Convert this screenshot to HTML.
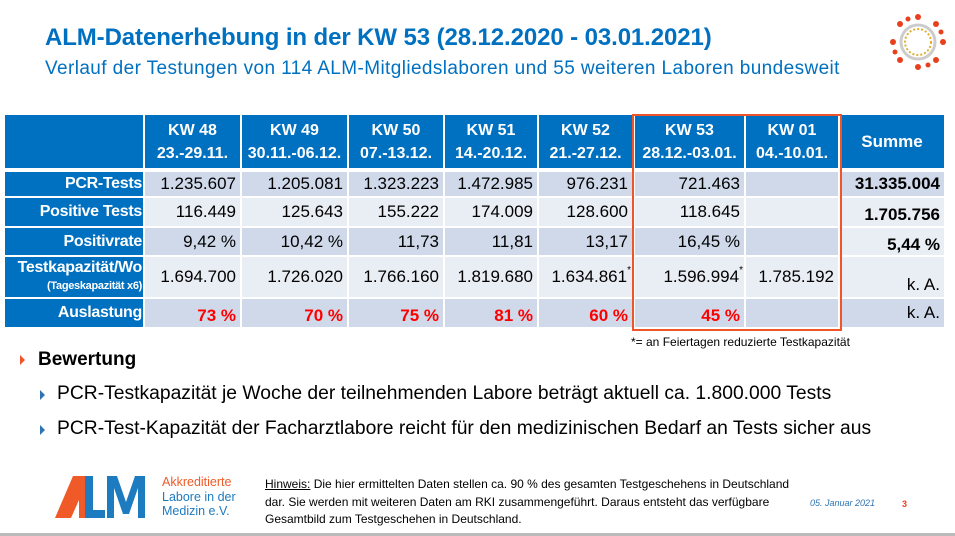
<!DOCTYPE html>
<html><head><meta charset="utf-8"><style>
body{margin:0;width:955px;height:536px;background:#fff;position:relative;overflow:hidden;font-family:"Liberation Sans",sans-serif}
.a{position:absolute;white-space:nowrap}
.c{position:absolute;box-sizing:border-box;display:flex;align-items:center;justify-content:flex-end;padding-right:4px;font-size:17px;color:#000}
.h{background:#0070C0;color:#fff;font-weight:bold;justify-content:center;text-align:center;flex-direction:column;font-size:16px;line-height:23px;padding:0}
.l{background:#0070C0;color:#fff;font-weight:bold;font-size:16px;padding-right:1px;letter-spacing:-0.3px}
.d{background:#CFD9EA}.e{background:#E9EDF4}
.r{color:#FF0000;font-weight:bold}
.b{font-weight:bold}
</style></head><body>
<div class="a" style="left:45px;top:24px;font-size:24px;font-weight:bold;color:#0070C0;letter-spacing:-0.1px">ALM-Datenerhebung in der KW 53 (28.12.2020 - 03.01.2021)</div>
<div class="a" style="left:45px;top:58px;font-size:19px;color:#0070C0;letter-spacing:0.4px">Verlauf der Testungen von 114 ALM-Mitgliedslaboren und 55 weiteren Laboren bundesweit</div>
<svg class="a" style="left:888px;top:12px" width="60" height="60" viewBox="0 0 60 60">
<circle cx="30" cy="30" r="17" fill="none" stroke="#ccc" stroke-width="3"/>
<circle cx="30" cy="30" r="13" fill="none" stroke="#E0B030" stroke-width="2" stroke-dasharray="2 2"/>
<g fill="#E8401C"><circle cx="30" cy="5" r="3"/><circle cx="30" cy="55" r="3"/><circle cx="5" cy="30" r="3"/><circle cx="55" cy="30" r="3"/><circle cx="12" cy="12" r="3"/><circle cx="48" cy="12" r="3"/><circle cx="12" cy="48" r="3"/><circle cx="48" cy="48" r="3"/><circle cx="20" cy="7" r="2.5"/><circle cx="40" cy="53" r="2.5"/><circle cx="7" cy="40" r="2.5"/><circle cx="53" cy="20" r="2.5"/></g>
</svg>

<div class="c h" style="left:5px;top:115px;width:138px;height:53px"></div>
<div class="c h" style="left:145px;top:115px;width:95px;height:53px">KW 48<br>23.-29.11.</div>
<div class="c h" style="left:242px;top:115px;width:105px;height:53px">KW 49<br>30.11.-06.12.</div>
<div class="c h" style="left:349px;top:115px;width:94px;height:53px">KW 50<br>07.-13.12.</div>
<div class="c h" style="left:445px;top:115px;width:92px;height:53px">KW 51<br>14.-20.12.</div>
<div class="c h" style="left:539px;top:115px;width:93px;height:53px">KW 52<br>21.-27.12.</div>
<div class="c h" style="left:635px;top:115px;width:109px;height:53px">KW 53<br>28.12.-03.01.</div>
<div class="c h" style="left:746px;top:115px;width:92px;height:53px">KW 01<br>04.-10.01.</div>
<div class="c h" style="left:840px;top:115px;width:104px;height:53px;font-size:17px">Summe</div>

<div class="c l" style="left:5px;top:172px;width:138px;height:24px">PCR-Tests</div>
<div class="c d" style="left:145px;top:172px;width:95px;height:24px">1.235.607</div>
<div class="c d" style="left:242px;top:172px;width:105px;height:24px">1.205.081</div>
<div class="c d" style="left:349px;top:172px;width:94px;height:24px">1.323.223</div>
<div class="c d" style="left:445px;top:172px;width:92px;height:24px">1.472.985</div>
<div class="c d" style="left:539px;top:172px;width:93px;height:24px">976.231</div>
<div class="c d" style="left:635px;top:172px;width:109px;height:24px">721.463</div>
<div class="c d" style="left:746px;top:172px;width:92px;height:24px"></div>
<div class="c d b" style="left:840px;top:172px;width:104px;height:24px">31.335.004</div>

<div class="c l" style="left:5px;top:198px;width:138px;height:28px">Positive Tests</div>
<div class="c e" style="left:145px;top:198px;width:95px;height:28px">116.449</div>
<div class="c e" style="left:242px;top:198px;width:105px;height:28px">125.643</div>
<div class="c e" style="left:349px;top:198px;width:94px;height:28px">155.222</div>
<div class="c e" style="left:445px;top:198px;width:92px;height:28px">174.009</div>
<div class="c e" style="left:539px;top:198px;width:93px;height:28px">128.600</div>
<div class="c e" style="left:635px;top:198px;width:109px;height:28px">118.645</div>
<div class="c e" style="left:746px;top:198px;width:92px;height:28px"></div>
<div class="c e b" style="left:840px;top:198px;width:104px;height:28px;padding-top:6px">1.705.756</div>

<div class="c l" style="left:5px;top:228px;width:138px;height:27px">Positivrate</div>
<div class="c d" style="left:145px;top:228px;width:95px;height:27px">9,42 %</div>
<div class="c d" style="left:242px;top:228px;width:105px;height:27px">10,42 %</div>
<div class="c d" style="left:349px;top:228px;width:94px;height:27px">11,73</div>
<div class="c d" style="left:445px;top:228px;width:92px;height:27px">11,81</div>
<div class="c d" style="left:539px;top:228px;width:93px;height:27px">13,17</div>
<div class="c d" style="left:635px;top:228px;width:109px;height:27px">16,45 %</div>
<div class="c d" style="left:746px;top:228px;width:92px;height:27px"></div>
<div class="c e b" style="left:840px;top:228px;width:104px;height:27px;padding-top:6px">5,44 %</div>

<div class="c l" style="left:5px;top:257px;width:138px;height:40px;flex-direction:column;align-items:flex-end;justify-content:center;line-height:18px"><span>Testkapazität/Wo</span><span style="font-size:11px">(Tageskapazität x6)</span></div>
<div class="c e" style="left:145px;top:257px;width:95px;height:40px">1.694.700</div>
<div class="c e" style="left:242px;top:257px;width:105px;height:40px">1.726.020</div>
<div class="c e" style="left:349px;top:257px;width:94px;height:40px">1.766.160</div>
<div class="c e" style="left:445px;top:257px;width:92px;height:40px">1.819.680</div>
<div class="c e" style="left:539px;top:257px;width:93px;height:40px;padding-right:1px">1.634.861<sup style="font-size:10px;align-self:flex-start;margin-top:8px">*</sup></div>
<div class="c e" style="left:635px;top:257px;width:109px;height:40px;padding-right:1px">1.596.994<sup style="font-size:10px;align-self:flex-start;margin-top:8px">*</sup></div>
<div class="c e" style="left:746px;top:257px;width:92px;height:40px">1.785.192</div>
<div class="c e" style="left:840px;top:257px;width:104px;height:40px;align-items:flex-end;padding-bottom:2px">k. A.</div>

<div class="c l" style="left:5px;top:299px;width:138px;height:28px">Auslastung</div>
<div class="c d r" style="left:145px;top:299px;width:95px;height:28px;padding-top:6px">73 %</div>
<div class="c d r" style="left:242px;top:299px;width:105px;height:28px;padding-top:6px">70 %</div>
<div class="c d r" style="left:349px;top:299px;width:94px;height:28px;padding-top:6px">75 %</div>
<div class="c d r" style="left:445px;top:299px;width:92px;height:28px;padding-top:6px">81 %</div>
<div class="c d r" style="left:539px;top:299px;width:93px;height:28px;padding-top:6px">60 %</div>
<div class="c d r" style="left:635px;top:299px;width:109px;height:28px;padding-top:6px">45 %</div>
<div class="c d" style="left:746px;top:299px;width:92px;height:28px"></div>
<div class="c d" style="left:840px;top:299px;width:104px;height:28px">k. A.</div>

<div class="a" style="left:632px;top:114px;width:206px;height:213px;border:2px solid #F0542A"></div>
<div class="a" style="left:631px;top:335px;font-size:12px">*= an Feiertagen reduzierte Testkapazität</div>

<div class="a" style="left:20px;top:355px;width:0;height:0;border-left:5px solid #F0542A;border-top:5px solid transparent;border-bottom:5px solid transparent"></div>
<div class="a" style="left:38px;top:349px;font-size:19px;font-weight:bold">Bewertung</div>
<div class="a" style="left:40px;top:390px;width:0;height:0;border-left:5px solid #2E74B5;border-top:5px solid transparent;border-bottom:5px solid transparent"></div>
<div class="a" style="left:57px;top:383px;font-size:19.3px">PCR-Testkapazität je Woche der teilnehmenden Labore beträgt aktuell ca. 1.800.000 Tests</div>
<div class="a" style="left:40px;top:425px;width:0;height:0;border-left:5px solid #2E74B5;border-top:5px solid transparent;border-bottom:5px solid transparent"></div>
<div class="a" style="left:57px;top:418px;font-size:19.3px">PCR-Test-Kapazität der Facharztlabore reicht für den medizinischen Bedarf an Tests sicher aus</div>

<svg class="a" style="left:55px;top:476px" width="100" height="42" viewBox="0 0 100 42">
<polygon points="0,42 18,0 30,0 30,42" fill="#F05A28"/>
<polygon points="16,42 24,24 24,42" fill="#fff"/>
<rect x="30" y="0" width="8" height="42" fill="#1D7BC0"/><rect x="30" y="34" width="20" height="8" fill="#1D7BC0"/>
<polygon points="52,42 52,0 62,0 71,26 80,0 90,0 90,42 83,42 83,12 74,38 68,38 59,12 59,42" fill="#1D7BC0"/>
</svg>
<div class="a" style="left:162px;top:475px;font-size:12.5px;line-height:14.5px;color:#1D7BC0"><span style="color:#F05A28">Akkreditierte</span><br>Labore in der<br>Medizin e.V.</div>
<div class="a" style="left:265px;top:476px;font-size:12px;line-height:17.5px"><u>Hinweis:</u> Die hier ermittelten Daten stellen ca. 90 % des gesamten Testgeschehens in Deutschland<br>dar. Sie werden mit weiteren Daten am RKI zusammengeführt. Daraus entsteht das verfügbare<br>Gesamtbild zum Testgeschehen in Deutschland.</div>
<div class="a" style="left:810px;top:498px;font-size:9px;font-style:italic;color:#2E74B5">05. Januar 2021</div>
<div class="a" style="left:902px;top:499px;font-size:9px;color:#E8401C;font-weight:bold">3</div>
<div class="a" style="left:0;top:533px;width:955px;height:3px;background:#bbb"></div>
</body></html>
